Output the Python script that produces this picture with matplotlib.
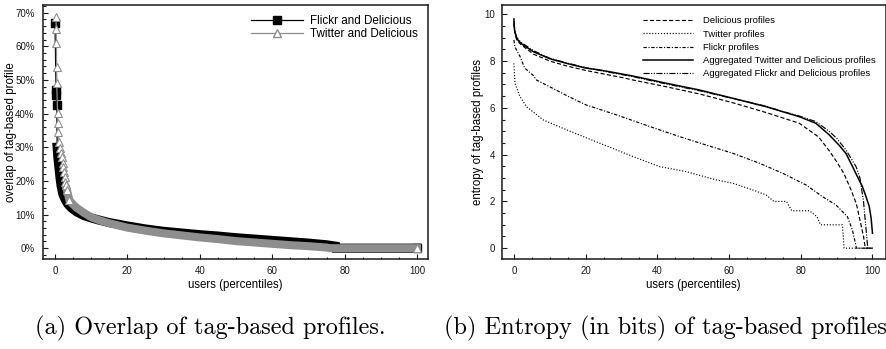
import numpy as np
import matplotlib
matplotlib.use("Agg")
import matplotlib.pyplot as plt
from matplotlib.lines import Line2D
from matplotlib.ticker import MultipleLocator, FuncFormatter

plt.rcParams['font.family'] = ['Liberation Sans', 'DejaVu Sans']
plt.rcParams['lines.scale_dashes'] = False

# (a) overlap of tag-based profiles, users sorted by overlap (percent)
fd_x = [0, 0.3, 0.4, 0.5, 0.6, 0.8, 1.1, 1.4, 1.7, 2.2, 2.8, 3.5, 4.5, 6, 8, 10, 12, 15,
        18, 20, 25, 30, 35, 40, 45, 50, 55, 60, 65, 70, 75, 77.5, 77.6, 100]
fd_y = [67, 47, 45.5, 42.5, 30, 27, 24, 21, 18.5, 16, 14.5, 13.2, 12, 10.8, 9.7, 9.0, 8.4, 7.6,
        7.0, 6.6, 5.7, 5.0, 4.5, 4.0, 3.6, 3.1, 2.7, 2.3, 1.9, 1.5, 1.0, 0.6, 0, 0]

td_x = [0.3, 0.35, 0.4, 0.45, 0.5, 0.7, 0.8, 0.9, 1.1, 1.4, 1.7, 1.9, 2.1, 2.3, 2.5, 2.7, 2.9,
        3.1, 3.3, 4, 5, 6, 8, 10, 12, 15, 20, 25, 30, 35, 40, 45, 50, 55, 60, 65, 70, 75, 76, 100]
td_y = [68.6, 65.0, 61.1, 53.8, 49.2, 40.1, 37.1, 34.6, 31.7, 29.7, 28.4, 27.2, 25.2, 24.2, 22.7,
        21.3, 19.8, 18.8, 17.3, 14.2, 13, 12, 10.5, 9.2, 8.4, 7.4, 6.1, 5.2, 4.4, 3.8, 3.2, 2.7,
        2.1, 1.7, 1.3, 0.9, 0.6, 0.2, 0, 0]

# (b) entropy (bits) of tag-based profiles
del_x = [0, 0.2, 0.8, 2, 5.4, 10, 14.7, 20, 23.9, 30, 33.2, 42.5, 51.8, 61, 70.3, 79.6, 85, 88,
         90, 92, 94, 95.5, 96.5, 97.5, 98, 100]
del_y = [9.6, 9.3, 8.9, 8.7, 8.3, 8.0, 7.79, 7.6, 7.48, 7.3, 7.19, 6.9, 6.59, 6.22, 5.8, 5.34,
         4.75, 4.15, 3.7, 3.2, 2.5, 1.9, 1.2, 0.5, 0, 0]

tw_x = [0, 0.3, 1.7, 3.5, 8.2, 14.7, 23.9, 33.2, 40.6, 48.1, 56.4, 61, 66.6, 70.3, 72.5, 76,
        77.5, 82.4, 84.5, 85.5, 91.6, 92.1, 100]
tw_y = [7.9, 7.05, 6.48, 6.05, 5.48, 5.06, 4.49, 3.92, 3.49, 3.27, 2.92, 2.78, 2.49, 2.28, 2.0,
        2.0, 1.6, 1.6, 1.35, 1.0, 1.0, 0, 0]

fl_x = [0, 0.3, 1.7, 3, 5.3, 6.3, 10, 15, 20.2, 28.6, 37.9, 46.2, 53.6, 61, 68.5, 75, 81.5,
        86.1, 89.8, 93, 94.4, 95.4, 95.5, 100]
fl_y = [8.9, 8.6, 8.2, 7.7, 7.4, 7.19, 6.9, 6.5, 6.12, 5.7, 5.2, 4.77, 4.41, 4.06, 3.63, 3.2,
        2.7, 2.2, 1.85, 1.35, 0.78, 0.1, 0, 0]

atd_x = [0, 0.2, 0.8, 2, 5.4, 10, 14.7, 20, 23.9, 33.2, 42.5, 51.8, 61, 70.3, 79.6, 84.2, 87.9,
         90.7, 92.6, 94.4, 96.3, 97.2, 98.2, 99.1, 99.6, 100]
atd_y = [9.8, 9.3, 8.95, 8.75, 8.4, 8.1, 7.9, 7.7, 7.62, 7.36, 7.05, 6.76, 6.41, 6.05, 5.62,
         5.34, 4.85, 4.4, 4.05, 3.5, 2.9, 2.63, 2.2, 1.78, 1.3, 0.64]

afd_x = [0, 0.2, 0.8, 2, 5.4, 10, 14.7, 20, 23.9, 33.2, 42.5, 51.8, 61, 70.3, 75, 79.6, 84.2,
         87.9, 90, 92.6, 95.4, 96.5, 97.5, 98.5, 98.7, 100]
afd_y = [9.7, 9.3, 9.0, 8.8, 8.45, 8.12, 7.92, 7.72, 7.6, 7.33, 7.02, 6.73, 6.4, 6.07, 5.84,
         5.65, 5.41, 5.0, 4.7, 4.2, 3.49, 3.0, 2.0, 0.3, 0, 0]

GRAY = '#8e8e8e'
EDGE = '#1a1a1a'

fig = plt.figure(figsize=(8.87, 3.49), dpi=100)
ax1 = fig.add_axes([0.0485, 0.258, 0.434, 0.728])
ax2 = fig.add_axes([0.5656, 0.258, 0.433, 0.728])


def style_axes(ax):
    for s in ax.spines.values():
        s.set_linewidth(1.1)
        s.set_color(EDGE)
    ax.tick_params(which='both', direction='in', top=False, right=False,
                   labelsize=7, colors=EDGE, width=0.8)
    ax.tick_params(which='major', length=3.6)
    ax.tick_params(which='minor', length=1.8)
    ax.set_xlabel('users (percentiles)', fontsize=8.3, labelpad=2)


# ---- (a)
fdx, fdy = np.array(fd_x), np.array(fd_y)
tdx, tdy = np.array(td_x), np.array(td_y)

band = fdy <= 31
ax1.plot(fdx, fdy, color='black', lw=0.9)
ax1.plot(fdx[band], fdy[band], color='black', lw=6.6, solid_capstyle='projecting',
         solid_joinstyle='miter')
top = list(np.where(fdy > 40)[0]) + [len(fdy) - 1]
ax1.plot(fdx[top], fdy[top], ls='none', marker='s', ms=6.4, color='black')

band = tdy <= 18
ax1.plot(tdx, tdy, color=GRAY, lw=0.9)
ax1.plot(tdx[band], tdy[band], color=GRAY, lw=5.8, solid_capstyle='projecting',
         solid_joinstyle='miter')
top = list(np.where(tdy > 14)[0]) + [len(tdy) - 1]
ax1.plot(tdx[top], tdy[top], ls='none', marker='^', ms=5.8, mfc='white', mec=GRAY, mew=0.8)

ax1.set_xlim(-3.3, 103)
ax1.set_ylim(-3.2, 72.3)
ax1.xaxis.set_major_locator(MultipleLocator(20))
ax1.xaxis.set_minor_locator(MultipleLocator(5))
ax1.yaxis.set_major_locator(MultipleLocator(10))
ax1.yaxis.set_minor_locator(MultipleLocator(2))
ax1.yaxis.set_major_formatter(FuncFormatter(lambda v, p: '%d%%' % round(v)))
style_axes(ax1)
ax1.tick_params(axis='y', pad=6)
ax1.tick_params(axis='x', pad=5)
ax1.set_ylabel('overlap of tag-based profile', fontsize=8.3)
ax1.yaxis.set_label_coords(-0.068, 0.5)

handles = [Line2D([], [], color='black', lw=0.9, marker='s', ms=6.4),
           Line2D([], [], color=GRAY, lw=0.9, marker='^', ms=5.8, mfc='white', mec=GRAY)]
ax1.legend(handles, ['Flickr and Delicious', 'Twitter and Delicious'], loc='upper left',
           bbox_to_anchor=(0.54, 0.96), frameon=False, fontsize=8.4, handlelength=4.5,
           handletextpad=0.6, labelspacing=0.08, borderpad=0, borderaxespad=0)

# ---- (b)
lw = 0.85
ax2.plot(del_x, del_y, color='black', lw=lw, dashes=(3.0, 1.6), label='Delicious profiles')
ax2.plot(tw_x, tw_y, color='black', lw=lw, dashes=(0.8, 1.3), label='Twitter profiles')
ax2.plot(fl_x, fl_y, color='black', lw=lw, dashes=(2.4, 1.2, 0.8, 1.2), label='Flickr profiles')
ax2.plot(atd_x, atd_y, color='black', lw=1.1, label='Aggregated Twitter and Delicious profiles')
ax2.plot(afd_x, afd_y, color='black', lw=lw, dashes=(4.4, 1.1, 0.8, 1.1, 0.8, 1.1),
         label='Aggregated Flickr and Delicious profiles')

ax2.set_xlim(-3.4, 103.7)
ax2.set_ylim(-0.46, 10.4)
ax2.xaxis.set_major_locator(MultipleLocator(20))
ax2.xaxis.set_minor_locator(MultipleLocator(5))
ax2.yaxis.set_major_locator(MultipleLocator(2))
ax2.yaxis.set_minor_locator(MultipleLocator(0.5))
style_axes(ax2)
ax2.tick_params(axis='y', pad=5)
ax2.tick_params(axis='x', pad=5)
ax2.set_ylabel('entropy of tag-based profiles', fontsize=8.3)
ax2.yaxis.set_label_coords(-0.047, 0.5)
ax2.legend(loc='upper left', bbox_to_anchor=(0.367, 0.955), frameon=False, fontsize=6.8,
           handlelength=5.3, handletextpad=1.1, labelspacing=0.45, borderpad=0, borderaxespad=0)

# captions
fig.text(0.237, 0.06, '(a) Overlap of tag-based profiles.', fontsize=17.5, family='cmr10',
         ha='center', va='center')
fig.text(0.75, 0.06, '(b) Entropy (in bits) of tag-based profiles', fontsize=17.5,
         family='cmr10', ha='center', va='center')

fig.savefig('out.png', dpi=100)
